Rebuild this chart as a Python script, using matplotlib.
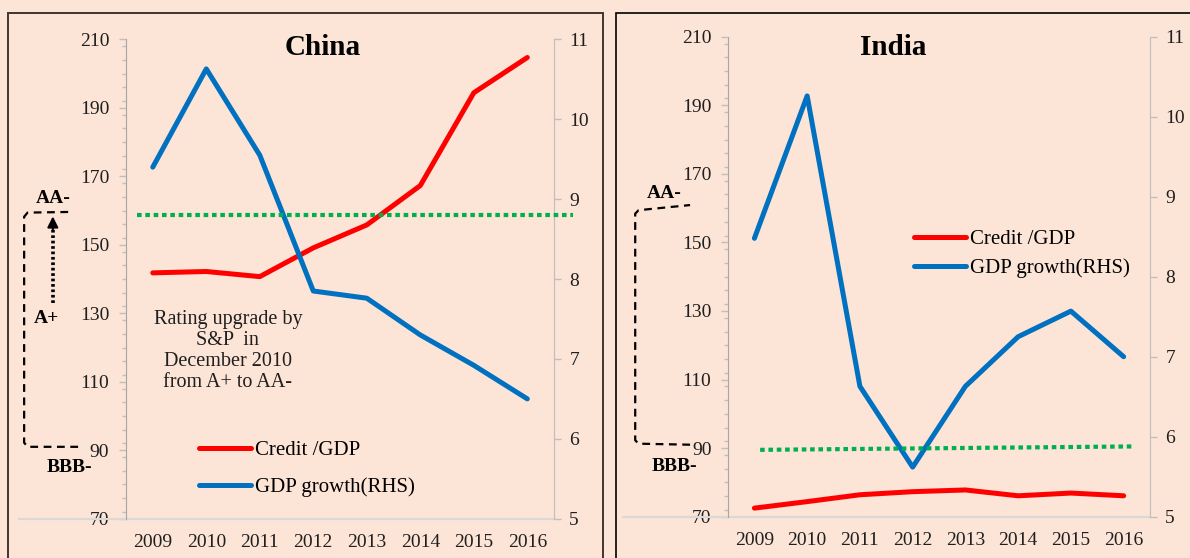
import matplotlib
matplotlib.use("Agg")
import matplotlib.pyplot as plt
import matplotlib.transforms as mtransforms
from matplotlib.ticker import MultipleLocator
from matplotlib.patches import Rectangle

plt.rcParams['font.family'] = ['Liberation Serif', 'DejaVu Serif']

# data
years = ["2009", "2010", "2011", "2012", "2013", "2014", "2015", "2016"]
china_credit = [141.8, 142.2, 140.7, 149.1, 155.8, 167.3, 194.4, 204.7]
china_growth = [9.40, 10.63, 9.55, 7.85, 7.76, 7.30, 6.92, 6.50]
india_credit = [72.5, 74.4, 76.4, 77.3, 77.8, 76.1, 76.9, 76.1]
india_growth = [8.48, 10.26, 6.63, 5.62, 6.63, 7.25, 7.57, 7.00]

# rating thresholds (left axis scale)
china_aa_level = 158.7
india_bbb_level = (89.5, 90.5)

BG = '#FCE4D6'
RED = '#FF0000'
BLUE = '#0070C0'
GREEN = '#00B050'
GRID_GRAY = '#BFBFBF'
TXT = '#1F1F1F'

fig = plt.figure(figsize=(11.9, 5.58), dpi=100, facecolor=BG)


def panel(rect, title, title_xy, credit, growth, leg_anchor, leg_spacing):
    ax = fig.add_axes(rect)
    ax.set_facecolor('none')
    x = list(range(len(years)))
    l1, = ax.plot(x, credit, color=RED, lw=3.6, solid_capstyle='round',
                  solid_joinstyle='round', label='Credit /GDP')
    ax2 = ax.twinx()
    l2, = ax2.plot(x, growth, color=BLUE, lw=3.6, solid_capstyle='round',
                   solid_joinstyle='round', label='GDP growth(RHS)')

    ax.set_xlim(-0.5, 7.5)
    ax.set_ylim(70, 210)
    ax.set_yticks(range(70, 211, 20))
    ax.yaxis.set_minor_locator(MultipleLocator(4))
    ax2.set_ylim(5, 11)
    ax2.set_yticks(range(5, 12))
    ax.set_xticks(x)
    ax.set_xticklabels(years)

    ax.tick_params(axis='x', length=0, pad=11, labelsize=14, labelcolor=TXT)
    ax.tick_params(axis='y', which='major', length=5, width=1, color=GRID_GRAY,
                   pad=7, labelsize=14, labelcolor=TXT)
    ax.tick_params(axis='y', which='minor', length=3, width=1, color=GRID_GRAY)
    ax2.tick_params(axis='y', length=5, width=1, color=GRID_GRAY, pad=6,
                    labelsize=14, labelcolor=TXT)

    for a in (ax, ax2):
        a.spines['top'].set_visible(False)
        a.spines['bottom'].set_visible(False)
    ax.spines['right'].set_visible(False)
    ax.spines['left'].set_color('#A6A6A6')
    ax2.spines['left'].set_visible(False)
    ax2.spines['right'].set_color(GRID_GRAY)

    # bottom axis line, running out to the left like the original drawing
    ax.plot([-0.25, 1.0], [0, 0], transform=ax.transAxes, clip_on=False,
            color='#D9D9D9', lw=1.5)

    ax.text(title_xy[0], title_xy[1], title, transform=ax.transAxes,
            ha='center', va='center', fontsize=21, fontweight='bold',
            color='black')

    ax2.legend(handles=[l1, l2], loc='center left', bbox_to_anchor=leg_anchor,
               frameon=False, fontsize=15, handlelength=2.5, handletextpad=0.2,
               labelspacing=leg_spacing, borderpad=0, borderaxespad=0)
    return ax, ax2


def bracket(ax2, ax, xs, ys):
    tr = mtransforms.blended_transform_factory(ax.transAxes, ax.transData)
    ax2.plot(xs, ys, transform=tr, clip_on=False, color='black', lw=1.6,
             linestyle=(0, (3.5, 2.5)))


# China
cax, cax2 = panel([0.1059, 0.0704, 0.3597, 0.8591], 'China', (0.46, 0.983),
                  china_credit, china_growth, (0.171, 0.104), 0.85)
ctr = mtransforms.blended_transform_factory(cax.transAxes, cax.transData)
cax2.plot([0.026, 1.044], [china_aa_level, china_aa_level], transform=ctr,
          clip_on=False, color=GREEN, lw=3, linestyle=(0, (1.1, 0.9)),
          dash_capstyle='butt', zorder=5)
bracket(cax2, cax, [-0.112, -0.230, -0.238, -0.238, -0.230, -0.126],
        [91.0, 91.0, 92.2, 158.2, 159.4, 159.6])
# dotted arrow from A+ up to AA-
cax2.plot([-0.171, -0.171], [133.0, 155.0], transform=ctr, clip_on=False,
          color='black', lw=2.6, linestyle=(0, (0.75, 0.75)),
          dash_capstyle='butt')
cax2.annotate('', xy=(-0.171, 158.3), xytext=(-0.171, 154.5),
              xycoords=ctr, textcoords=ctr, annotation_clip=False,
              arrowprops=dict(arrowstyle='-|>', color='black', lw=1.5,
                              mutation_scale=16, shrinkA=0, shrinkB=0))
cax2.text(-0.171, 163.4, 'AA-', transform=ctr, ha='center', va='center',
          fontsize=14, fontweight='bold')
cax2.text(-0.187, 128.5, 'A+', transform=ctr, ha='center', va='center',
          fontsize=14, fontweight='bold')
cax2.text(-0.131, 85.1, 'BBB-', transform=ctr, ha='center', va='center',
          fontsize=14, fontweight='bold')
cax2.text(0.238, 0.350, 'Rating upgrade by\nS&P  in\nDecember 2010\nfrom A+ to AA-',
          transform=cax.transAxes, ha='center', va='center', fontsize=14.5,
          linespacing=1.15, color=TXT)

# India
iax, iax2 = panel([0.6118, 0.0740, 0.3546, 0.8602], 'India', (0.391, 0.978),
                  india_credit, india_growth, (0.441, 0.548), 0.45)
itr = mtransforms.blended_transform_factory(iax.transAxes, iax.transData)
iax2.plot([0.076, 0.962], list(india_bbb_level), transform=itr,
          clip_on=False, color=GREEN, lw=3, linestyle=(0, (1.1, 0.9)),
          dash_capstyle='butt', zorder=5)
bracket(iax2, iax, [-0.090, -0.212, -0.220, -0.220, -0.212, -0.090],
        [91.0, 91.3, 92.3, 158.4, 159.4, 160.9])
iax2.text(-0.152, 164.4, 'AA-', transform=itr, ha='center', va='center',
          fontsize=14, fontweight='bold')
iax2.text(-0.126, 84.6, 'BBB-', transform=itr, ha='center', va='center',
          fontsize=14, fontweight='bold')

# panel frames
fig.add_artist(Rectangle((8 / 1190, -0.1), (602.7 - 8) / 1190, 1.1 - 13 / 558,
                         transform=fig.transFigure, fill=False,
                         edgecolor='#403530', lw=1.4))
fig.add_artist(Rectangle((616 / 1190, -0.1), 0.6, 1.1 - 13 / 558,
                         transform=fig.transFigure, fill=False,
                         edgecolor='black', lw=1.2))

fig.savefig("out.png", dpi=100, facecolor=BG)
